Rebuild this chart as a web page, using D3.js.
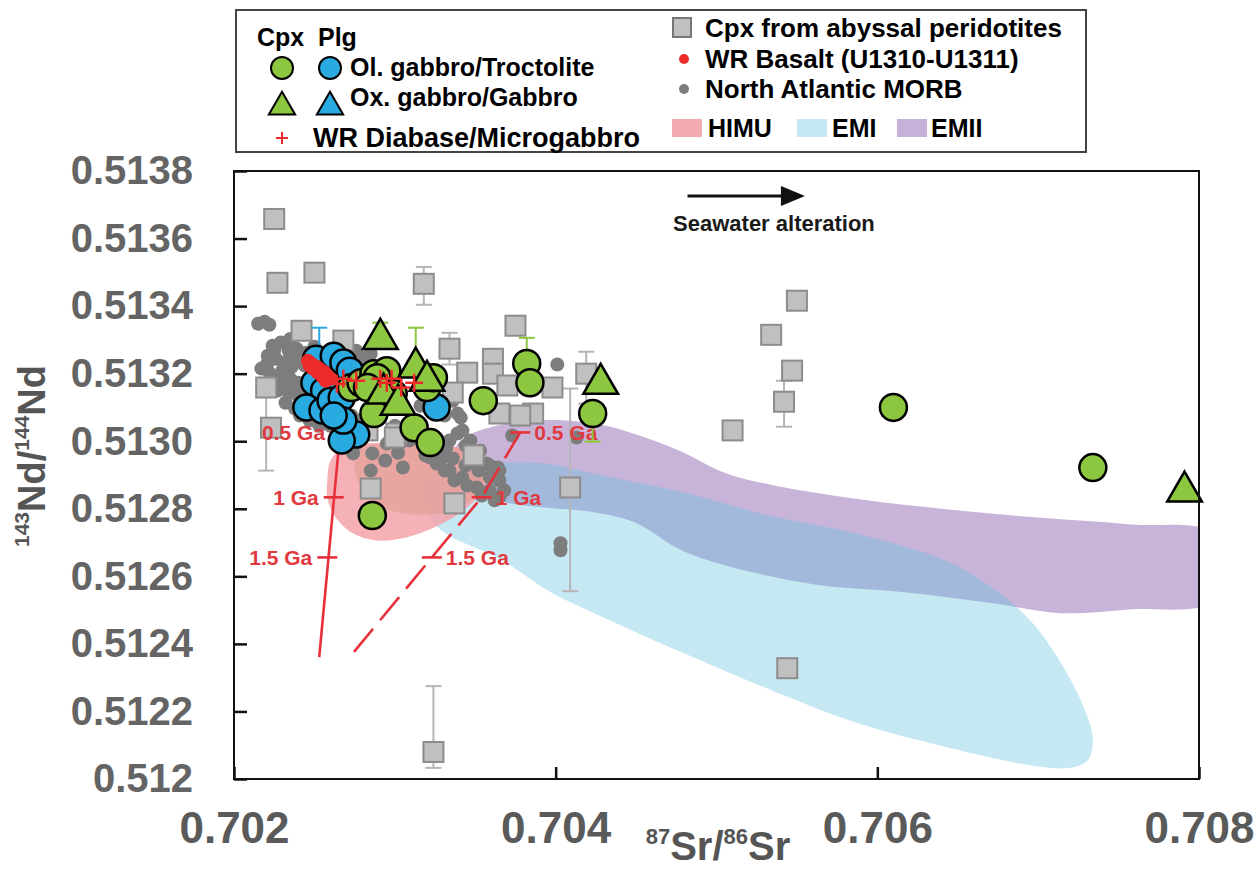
<!DOCTYPE html>
<html>
<head>
<meta charset="utf-8">
<script src="https://cdn.jsdelivr.net/npm/d3@7"></script>
<style>
  body { margin: 0; background: #fff; }
  svg { display: block; font-family: "Liberation Sans", Arial, sans-serif; font-weight: bold; }
</style>
</head>
<body>
<svg id="chart" width="1258" height="872"></svg>
<script>
// axis ticks
const xTickValues = [0.702, 0.704, 0.706, 0.708];
const xTickLabels = ["0.702", "0.704", "0.706", "0.708"];
const yTickValues = [0.512, 0.5122, 0.5124, 0.5126, 0.5128, 0.5130, 0.5132, 0.5134, 0.5136, 0.5138];
const yTickLabels = ["0.512", "0.5122", "0.5124", "0.5126", "0.5128", "0.5130", "0.5132", "0.5134", "0.5136", "0.5138"];

// mantle end-member fields, [87Sr/86Sr, 143Nd/144Nd] outlines
const emiiField = [[0.70337,0.512972],[0.70347,0.513020],[0.70386,0.513061],[0.70428,0.513049],[0.70452,0.513017],[0.70477,0.512972],[0.70505,0.512907],[0.70533,0.512872],[0.70589,0.512828],[0.70644,0.512798],[0.70700,0.512774],[0.70756,0.512754],[0.70810,0.512724],[0.70810,0.512529],[0.70756,0.512502],[0.70714,0.512491],[0.70672,0.512520],[0.70617,0.512553],[0.70561,0.512576],[0.70505,0.512633],[0.70477,0.512680],[0.70449,0.512760],[0.70421,0.512792],[0.70393,0.512804],[0.70365,0.512825],[0.70347,0.512884]];
const emiField = [[0.70320,0.512913],[0.70341,0.512958],[0.70365,0.512940],[0.70394,0.512934],[0.70421,0.512907],[0.70477,0.512851],[0.70533,0.512780],[0.70589,0.512724],[0.70644,0.512644],[0.70672,0.512564],[0.70695,0.512470],[0.70715,0.512337],[0.70729,0.512204],[0.70734,0.512115],[0.70731,0.512056],[0.70720,0.512033],[0.70695,0.512041],[0.70645,0.512092],[0.70590,0.512162],[0.70534,0.512263],[0.70477,0.512378],[0.70428,0.512482],[0.70397,0.512553],[0.70366,0.512650],[0.70329,0.512736],[0.70318,0.512810]];
const himuField = [[0.70258,0.512884],[0.70260,0.512943],[0.70267,0.512978],[0.70280,0.512993],[0.70302,0.512993],[0.70326,0.512990],[0.70345,0.512972],[0.70357,0.512922],[0.70356,0.512863],[0.70345,0.512804],[0.70326,0.512748],[0.70307,0.512715],[0.70289,0.512706],[0.70273,0.512730],[0.70262,0.512783],[0.70258,0.512834]];
const himuCore = [[0.70280,0.512981],[0.70302,0.512990],[0.70326,0.512990],[0.70343,0.512972],[0.70355,0.512919],[0.70352,0.512851],[0.70339,0.512801],[0.70319,0.512783],[0.70300,0.512792],[0.70285,0.512822],[0.70277,0.512881],[0.70275,0.512940]];

// Nd-Sr evolution lines with age ticks
const solidAges = [
  { age: "0.5 Ga", sr: 0.70266, nd: 0.513026 },
  { age: "1 Ga", sr: 0.70262, nd: 0.512834 },
  { age: "1.5 Ga", sr: 0.70258, nd: 0.512656 }
];
const solidEnd = [0.70253, 0.512361];
const dashedAges = [
  { age: "0.5 Ga", sr: 0.70378, nd: 0.513026 },
  { age: "1 Ga", sr: 0.70354, nd: 0.512834 },
  { age: "1.5 Ga", sr: 0.70323, nd: 0.512656 }
];
const dashedEnd = [0.70272, 0.512361];

// North Atlantic MORB
const morb = [[0.70215,0.513348],[0.70219,0.513354],[0.70222,0.513345],[0.70235,0.513303],[0.70224,0.513283],[0.70229,0.513292],[0.70234,0.513268],[0.70239,0.513274],[0.70241,0.513244],[0.70221,0.513253],[0.70226,0.513244],[0.70231,0.513233],[0.70236,0.513221],[0.70217,0.513215],[0.70222,0.513203],[0.70229,0.513194],[0.70235,0.513185],[0.70240,0.513173],[0.70227,0.513150],[0.70234,0.513144],[0.70240,0.513132],[0.70232,0.513114],[0.70238,0.513097],[0.70243,0.513156],[0.70245,0.513262],[0.70250,0.513280],
  [0.70225,0.513268],[0.70230,0.513209],[0.70237,0.513165],[0.70243,0.513120],[0.70247,0.513179],[0.70244,0.513224],[0.70238,0.513253],[0.70232,0.513165],[0.70225,0.513179],[0.70221,0.513233],[0.70241,0.513076],[0.70247,0.513061],[0.70253,0.513046],[0.70265,0.513067],[0.70273,0.513076],
  [0.70276,0.513268],[0.70281,0.513247],[0.70285,0.513259],[0.70260,0.513046],[0.70270,0.513040],[0.70282,0.513030],[0.70278,0.513061],[0.70291,0.513067],[0.70300,0.513046],[0.70309,0.513002],[0.70294,0.512943],
  [0.70274,0.512964],[0.70276,0.512993],[0.70286,0.512964],[0.70285,0.512913],[0.70295,0.512993],[0.70305,0.512922],[0.70302,0.512966],[0.70316,0.513002],[0.70319,0.512958],
  [0.70339,0.513082],[0.70336,0.513120],[0.70341,0.513070],[0.70339,0.513023],[0.70332,0.512981],[0.70326,0.512934],[0.70334,0.512913],[0.70342,0.512893],[0.70351,0.512863],[0.70359,0.512854],[0.70365,0.512913],[0.70365,0.512834],[0.70357,0.512934],[0.70347,0.512943],[0.70353,0.512972],[0.70359,0.512893],[0.70347,0.513002],[0.70330,0.512952],[0.70322,0.512952],
  [0.70331,0.512913],[0.70337,0.512884],[0.70345,0.512869],[0.70354,0.512839],[0.70362,0.512825],[0.70368,0.512854],[0.70365,0.512884],[0.70359,0.512928],[0.70352,0.512913],[0.70344,0.512928],[0.70336,0.512949],[0.70328,0.512972],[0.70334,0.513002],[0.70342,0.513032],[0.70344,0.512987],[0.70350,0.512958],
  [0.70373,0.513017],[0.70401,0.513227],[0.70413,0.513011],[0.70403,0.512698],[0.70403,0.512677],[0.70316,0.513105],[0.70331,0.513076],[0.70364,0.512922]];

// Cpx from abyssal peridotites
const peridotite = [[0.70225,0.513658],[0.70227,0.513469],[0.70250,0.513499],[0.70318,0.513466],[0.70242,0.513327],[0.70268,0.513298],[0.70220,0.513159],[0.70223,0.513040],[0.70283,0.513032],[0.70301,0.513023],[0.70375,0.513342],[0.70334,0.513274],[0.70361,0.513244],[0.70361,0.513200],[0.70345,0.513203],[0.70370,0.513165],[0.70398,0.513159],[0.70419,0.513200],[0.70365,0.513082],[0.70386,0.513082],[0.70378,0.513076],[0.70349,0.512958],[0.70337,0.512816],[0.70409,0.512863],[0.70285,0.512860],[0.70300,0.513011],[0.70336,0.513144],[0.70550,0.513416],[0.70534,0.513315],[0.70547,0.513209],[0.70542,0.513117],[0.70510,0.513032],[0.70544,0.512328],[0.70324,0.512080]];
const peridotiteErr = [[0.70318,0.513404,0.513516],[0.70220,0.512913,0.513188],[0.70334,0.513227,0.513321],[0.70419,0.513111,0.513265],[0.70409,0.512556,0.513156],[0.70542,0.513043,0.513179],[0.70324,0.512033,0.512275]];

// this study
const cpxOlGabbro = [[0.70273,0.513159],[0.70279,0.513173],[0.70287,0.513200],[0.70295,0.513209],[0.70299,0.513141],[0.70291,0.513111],[0.70287,0.513082],[0.70289,0.513188],[0.70283,0.513159],[0.70320,0.513159],[0.70324,0.513188],[0.70312,0.513040],[0.70322,0.512996],[0.70355,0.513120],[0.70382,0.513230],[0.70384,0.513173],[0.70423,0.513082],[0.70286,0.512780],[0.70610,0.513100],[0.70734,0.512922]];
const cpxOxGabbro = [[0.70291,0.513303],[0.70313,0.513218],[0.70293,0.513141],[0.70302,0.513108],[0.70320,0.513179],[0.70428,0.513170],[0.70791,0.512851]];
const cpxErr = [[0.70291,0.513303,0.513351],[0.70313,0.513218,0.513336],[0.70382,0.513230,0.513306],[0.70423,0.512999,0.513082]];
const plgOlGabbro = [[0.70251,0.513244],[0.70262,0.513253],[0.70268,0.513233],[0.70272,0.513209],[0.70250,0.513173],[0.70256,0.513150],[0.70245,0.513100],[0.70255,0.513091],[0.70260,0.513120],[0.70267,0.513129],[0.70276,0.513020],[0.70267,0.513002],[0.70268,0.513061],[0.70262,0.513076],[0.70326,0.513100]];
const plgErr = [[0.70253,0.513244,0.513336]];
const wrBasalt = [[0.70246,0.513238],[0.70248,0.513230],[0.70251,0.513221],[0.70253,0.513215],[0.70256,0.513206],[0.70258,0.513194],[0.70260,0.513185],[0.70252,0.513203],[0.70255,0.513191],[0.70249,0.513215],[0.70257,0.513179],[0.70247,0.513224]];
const wrDiabase = [[0.70264,0.513170],[0.70268,0.513185],[0.70276,0.513179],[0.70291,0.513185],[0.70295,0.513173],[0.70298,0.513185],[0.70304,0.513159],[0.70312,0.513173]];

// arrow annotation
const alteration = { from: [0.70482, 0.513726], to: [0.70555, 0.513726], text: [0.70473, 0.513623] };

const margin = { top: 171, right: 59, bottom: 93, left: 234 },
    width = 1258 - margin.left - margin.right,
    height = 872 - margin.top - margin.bottom;

const GREEN = "#8dc63f", BLUE = "#29abe2", RED = "#e8303a", LABEL_RED = "#e03a40";

const svg = d3.select("#chart");
const g = svg.append("g").attr("transform", "translate(" + margin.left + "," + margin.top + ")");

const x = d3.scaleLinear().domain([0.702, 0.708]).range([0, width]);
const y = d3.scaleLinear().domain([0.512, 0.5138]).range([height, 0]);

g.append("clipPath").attr("id", "clip")
  .append("rect").attr("width", width).attr("height", height);

// fields
const area = d3.line().x(d => x(d[0])).y(d => y(d[1])).curve(d3.curveCatmullRomClosed.alpha(0.5));
const fields = g.append("g").attr("clip-path", "url(#clip)");
fields.append("path").attr("d", area(emiiField)).attr("fill", "#c8b4d9");
fields.append("path").attr("d", area(emiField)).attr("fill", "rgb(103,194,223)").attr("fill-opacity", 0.38);
fields.append("path").attr("d", area(himuField)).attr("fill", "#f4a3a9").attr("fill-opacity", 0.85);
fields.append("path").attr("d", area(himuCore)).attr("fill", "#d99a88").attr("fill-opacity", 0.45);

// MORB
g.append("g").selectAll("circle").data(morb).enter().append("circle")
  .attr("cx", d => x(d[0])).attr("cy", d => y(d[1])).attr("r", 7)
  .attr("fill", "#7d7d7d");

function errorBars(data, color) {
  const grp = g.append("g").attr("stroke", color).attr("stroke-width", 2);
  data.forEach(function (d) {
    grp.append("line").attr("x1", x(d[0])).attr("x2", x(d[0])).attr("y1", y(d[1])).attr("y2", y(d[2]));
    [d[1], d[2]].forEach(function (v) {
      grp.append("line").attr("x1", x(d[0]) - 8).attr("x2", x(d[0]) + 8).attr("y1", y(v)).attr("y2", y(v));
    });
  });
}

// abyssal peridotite cpx
errorBars(peridotiteErr, "#b5b5b5");
g.append("g").selectAll("rect").data(peridotite).enter().append("rect")
  .attr("x", d => x(d[0]) - 10).attr("y", d => y(d[1]) - 10)
  .attr("width", 20).attr("height", 20)
  .attr("fill", "#c0c0c0").attr("stroke", "#8c8c8c").attr("stroke-width", 2);

// evolution lines (over the background data)
const evo = g.append("g").attr("stroke", RED).attr("stroke-width", 2.6).attr("fill", "none");
evo.append("line")
  .attr("x1", x(solidAges[0].sr)).attr("y1", y(solidAges[0].nd))
  .attr("x2", x(solidEnd[0])).attr("y2", y(solidEnd[1]));
evo.append("path")
  .attr("d", d3.line().x(d => x(d[0])).y(d => y(d[1]))([[dashedAges[0].sr, dashedAges[0].nd], [dashedAges[1].sr, dashedAges[1].nd], [dashedAges[2].sr, dashedAges[2].nd], dashedEnd]))
  .attr("stroke-dasharray", "30,11");

function ageTicks(data, side) {
  const grp = g.append("g");
  grp.selectAll("line").data(data).enter().append("line")
    .attr("x1", d => x(d.sr) - 10).attr("x2", d => x(d.sr) + 10)
    .attr("y1", d => y(d.nd)).attr("y2", d => y(d.nd))
    .attr("stroke", RED).attr("stroke-width", 2.6);
  grp.selectAll("text").data(data).enter().append("text")
    .attr("x", d => side < 0 ? x(d.sr) - 15 : x(d.sr) + 14)
    .attr("y", d => y(d.nd))
    .attr("dy", "0.36em")
    .attr("text-anchor", side < 0 ? "end" : "start")
    .attr("fill", LABEL_RED).style("font-size", "21px")
    .text(d => d.age);
}
ageTicks(solidAges, -1);
ageTicks(dashedAges, 1);

// error bars for this study
errorBars(plgErr, BLUE);
errorBars(cpxErr, GREEN);

// plagioclase
g.append("g").selectAll("circle").data(plgOlGabbro).enter().append("circle")
  .attr("cx", d => x(d[0])).attr("cy", d => y(d[1])).attr("r", 13)
  .attr("fill", BLUE).attr("stroke", "#000").attr("stroke-width", 2.5);

// cpx circles
g.append("g").selectAll("circle").data(cpxOlGabbro).enter().append("circle")
  .attr("cx", d => x(d[0])).attr("cy", d => y(d[1])).attr("r", 13.5)
  .attr("fill", GREEN).attr("stroke", "#000").attr("stroke-width", 2.5);

// cpx triangles
const tri = d3.symbol(d3.symbolTriangle, 520);
g.append("g").selectAll("path").data(cpxOxGabbro).enter().append("path")
  .attr("d", tri)
  .attr("transform", d => "translate(" + x(d[0]) + "," + y(d[1]) + ")")
  .attr("fill", GREEN).attr("stroke", "#000").attr("stroke-width", 2.5);

// WR basalt
g.append("g").selectAll("circle").data(wrBasalt).enter().append("circle")
  .attr("cx", d => x(d[0])).attr("cy", d => y(d[1])).attr("r", 7)
  .attr("fill", "#ee2b2b");

// WR diabase
const plus = g.append("g").attr("stroke", "#ee2b2b").attr("stroke-width", 2.5);
wrDiabase.forEach(function (d) {
  plus.append("line").attr("x1", x(d[0]) - 9).attr("x2", x(d[0]) + 9).attr("y1", y(d[1])).attr("y2", y(d[1]));
  plus.append("line").attr("x1", x(d[0])).attr("x2", x(d[0])).attr("y1", y(d[1]) - 9).attr("y2", y(d[1]) + 9);
});

// seawater alteration arrow
const ax1 = x(alteration.from[0]), ax2 = x(alteration.to[0]), ay = y(alteration.from[1]);
g.append("line").attr("x1", ax1).attr("x2", ax2 - 18).attr("y1", ay).attr("y2", ay)
  .attr("stroke", "#111").attr("stroke-width", 3);
g.append("path").attr("d", "M" + ax2 + "," + ay + "L" + (ax2 - 24) + "," + (ay - 10) + "L" + (ax2 - 24) + "," + (ay + 10) + "Z")
  .attr("fill", "#111");
g.append("text").attr("x", x(alteration.text[0])).attr("y", y(alteration.text[1]))
  .style("font-size", "22px").attr("fill", "#1a1a1a").text("Seawater alteration");

// frame
g.append("rect").attr("width", width).attr("height", height)
  .attr("fill", "none").attr("stroke", "#111").attr("stroke-width", 2);

// axes
const yAxis = d3.axisLeft(y).tickValues(yTickValues).tickSize(-13).tickPadding(41)
  .tickFormat((d, i) => yTickLabels[i]);
const ya = g.append("g").call(yAxis);
ya.select(".domain").remove();
ya.selectAll(".tick line").attr("stroke", "#111").attr("stroke-width", 2.5);
ya.selectAll(".tick text").attr("fill", "#646464").style("font-size", "40px")
  .style("font-family", "'Liberation Sans', Arial, sans-serif").style("font-weight", "bold");

const xAxis = d3.axisBottom(x).tickValues(xTickValues).tickSize(-12).tickPadding(33)
  .tickFormat((d, i) => xTickLabels[i]);
const xa = g.append("g").attr("transform", "translate(0," + height + ")").call(xAxis);
xa.select(".domain").remove();
xa.selectAll(".tick line").attr("stroke", "#111").attr("stroke-width", 2.5);
xa.selectAll(".tick text").attr("fill", "#5a5a5a").style("font-size", "44px")
  .style("font-family", "'Liberation Sans', Arial, sans-serif").style("font-weight", "bold");

// axis titles
const xt = svg.append("text").attr("x", 718).attr("y", 860).attr("text-anchor", "middle")
  .attr("fill", "#555").style("font-size", "40px");
xt.append("tspan").style("font-size", "22px").attr("baseline-shift", "75%").text("87");
xt.append("tspan").text("Sr/");
xt.append("tspan").style("font-size", "22px").attr("baseline-shift", "75%").text("86");
xt.append("tspan").text("Sr");

const yt = svg.append("text").attr("transform", "translate(45,456) rotate(-90)").attr("text-anchor", "middle")
  .attr("fill", "#555").style("font-size", "38px");
yt.append("tspan").style("font-size", "21px").attr("baseline-shift", "75%").text("143");
yt.append("tspan").text("Nd/");
yt.append("tspan").style("font-size", "21px").attr("baseline-shift", "75%").text("144");
yt.append("tspan").text("Nd");

// legend
const lg = svg.append("g");
lg.append("rect").attr("x", 236).attr("y", 10).attr("width", 850).attr("height", 142)
  .attr("fill", "#fff").attr("stroke", "#444").attr("stroke-width", 2);
lg.append("text").attr("x", 257).attr("y", 46).style("font-size", "25px").text("Cpx");
lg.append("text").attr("x", 318).attr("y", 46).style("font-size", "25px").text("Plg");
lg.append("circle").attr("cx", 282).attr("cy", 68).attr("r", 11).attr("fill", GREEN).attr("stroke", "#000").attr("stroke-width", 2);
lg.append("circle").attr("cx", 330).attr("cy", 68).attr("r", 11).attr("fill", BLUE).attr("stroke", "#000").attr("stroke-width", 2);
lg.append("text").attr("x", 350).attr("y", 76).style("font-size", "25px").text("Ol. gabbro/Troctolite");
const ltri = d3.symbol(d3.symbolTriangle, 300);
lg.append("path").attr("d", ltri).attr("transform", "translate(282,107)").attr("fill", GREEN).attr("stroke", "#000").attr("stroke-width", 2);
lg.append("path").attr("d", ltri).attr("transform", "translate(330,107)").attr("fill", BLUE).attr("stroke", "#000").attr("stroke-width", 2);
lg.append("text").attr("x", 350).attr("y", 106).style("font-size", "25px").text("Ox. gabbro/Gabbro");
lg.append("path").attr("d", "M276,138H288M282,132V144").attr("stroke", "#ee2b2b").attr("stroke-width", 2);
lg.append("text").attr("x", 313).attr("y", 147).style("font-size", "27px").text("WR Diabase/Microgabbro");

lg.append("rect").attr("x", 673).attr("y", 18).attr("width", 18).attr("height", 19)
  .attr("fill", "#c0c0c0").attr("stroke", "#777").attr("stroke-width", 2);
lg.append("text").attr("x", 705).attr("y", 37).style("font-size", "26px").text("Cpx from abyssal peridotites");
lg.append("circle").attr("cx", 684).attr("cy", 59).attr("r", 5).attr("fill", "#ee2b2b");
lg.append("text").attr("x", 705).attr("y", 68).style("font-size", "26px").text("WR Basalt (U1310-U1311)");
lg.append("circle").attr("cx", 684).attr("cy", 89).attr("r", 5).attr("fill", "#7d7d7d");
lg.append("text").attr("x", 705).attr("y", 98).style("font-size", "26px").text("North Atlantic MORB");
const swatches = [["HIMU", "#f4abb0", 672, 708], ["EMI", "#c5e8f3", 797, 832], ["EMII", "#c6b2d8", 897, 931]];
swatches.forEach(function (s) {
  lg.append("rect").attr("x", s[2]).attr("y", 119).attr("width", 30).attr("height", 18).attr("fill", s[1]);
  lg.append("text").attr("x", s[3]).attr("y", 137).style("font-size", "25px").text(s[0]);
});
</script>
</body>
</html>
